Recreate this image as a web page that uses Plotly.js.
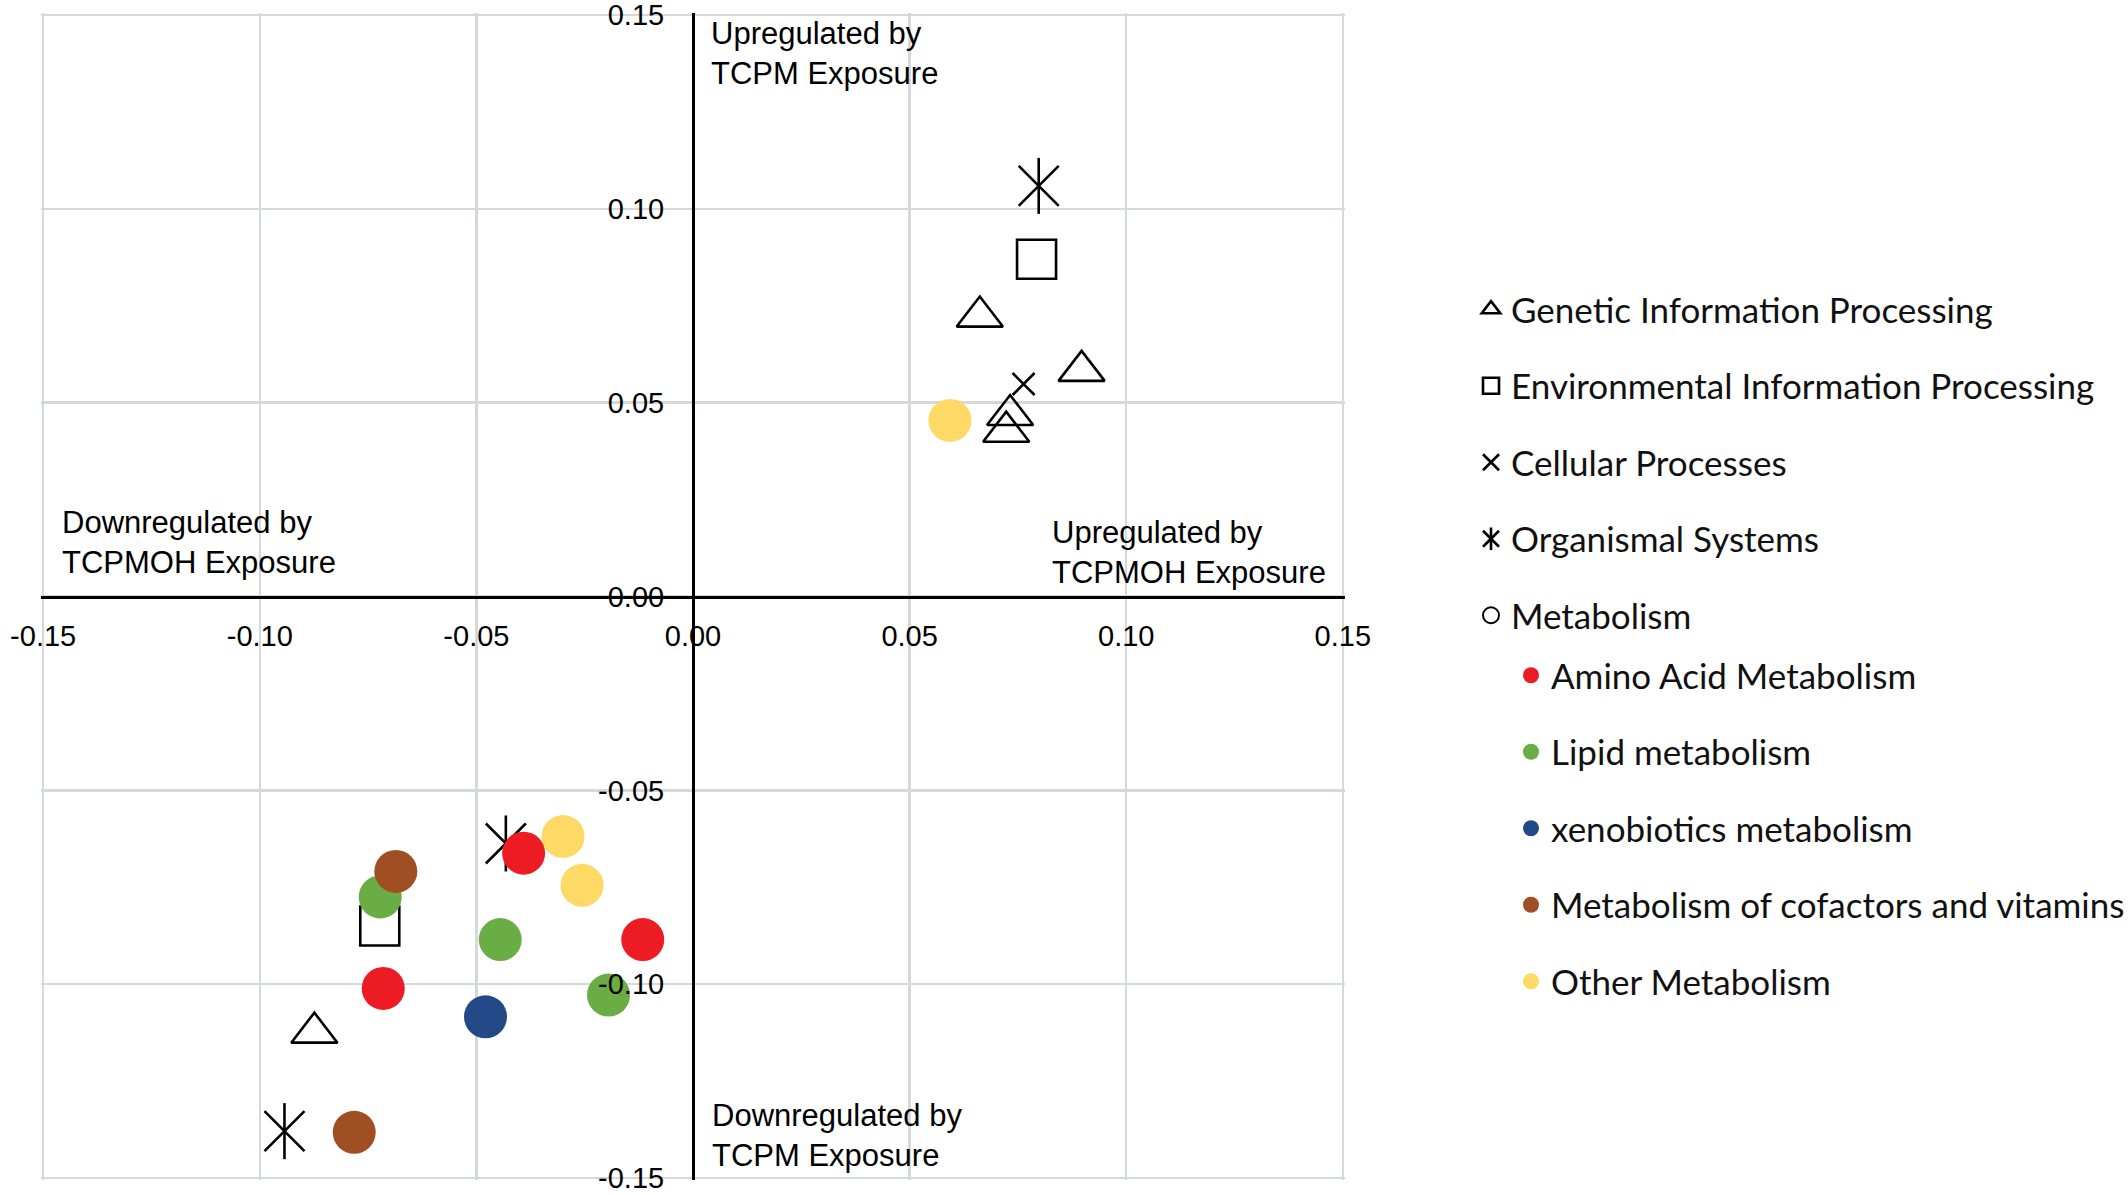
<!DOCTYPE html>
<html>
<head>
<meta charset="utf-8">
<script src="https://cdn.plot.ly/plotly-3.0.1.min.js"></script>
<style>
  html, body { margin: 0; padding: 0; background: #ffffff; }
  #chart { width: 2128px; height: 1195px; }
</style>
</head>
<body>
<div id="chart"></div>
<script>
// ---- Data ----
const categoryNames = [
  'Genetic Information Processing',
  'Environmental Information Processing',
  'Cellular Processes',
  'Organismal Systems',
  'Metabolism'
];
const metabolismNames = [
  'Amino Acid Metabolism',
  'Lipid metabolism',
  'xenobiotics metabolism',
  'Metabolism of cofactors and vitamins',
  'Other Metabolism'
];

const geneticX = [0.0662, 0.0897, 0.0732, 0.0723, -0.0874];
const geneticY = [0.0722, 0.0582, 0.0468, 0.0425, -0.1125];

const environmentalX = [0.0793, -0.0723];
const environmentalY = [0.0870, -0.0850];

const cellularX = [0.0763];
const cellularY = [0.0548];

const organismalX = [0.0798, -0.0432, -0.0943];
const organismalY = [0.1059, -0.0637, -0.1379];

const aminoX = [-0.0391, -0.0116, -0.0715];
const aminoY = [-0.0662, -0.0885, -0.1011];

const lipidX = [-0.0722, -0.0445, -0.0195];
const lipidY = [-0.0775, -0.0885, -0.1028];

const xenoX = [-0.0479];
const xenoY = [-0.1084];

const cofactorX = [-0.0686, -0.0782];
const cofactorY = [-0.0709, -0.1382];

const otherX = [0.0593, -0.0300, -0.0256];
const otherY = [0.0454, -0.0619, -0.0745];

const xTickVals = [-0.15, -0.10, -0.05, 0, 0.05, 0.10, 0.15];
const xTickText = ['-0.15', '-0.10', '-0.05', '0.00', '0.05', '0.10', '0.15'];
const yTickVals = [-0.15, -0.10, -0.05, 0, 0.05, 0.10, 0.15];
const yTickText = ['-0.15', '-0.10', '-0.05', '0.00', '0.05', '0.10', '0.15'];

const quadrantLabels = [
  'Upregulated by<br>TCPM Exposure',
  'Downregulated by<br>TCPMOH Exposure',
  'Upregulated by<br>TCPMOH Exposure',
  'Downregulated by<br>TCPM Exposure'
];

const metabolismColors = ['#ED1C24', '#6BAD45', '#234A86', '#A04F24', '#FFD965'];

// ---- Layout helpers ----
const W = 2128, H = 1195;
const ML = 41, MR = 783, MT = 13, MB = 15;
const PW = W - ML - MR, PH = H - MT - MB;
function px2paperX(px) { return (px - ML) / PW; }
function px2paperY(py) { return 1 - (py - MT) / PH; }

const LEG1_FONT = 35, LEG1_GAP = 28;
const LEG2_FONT = 35, LEG2_GAP = 28;
const LEG1_PITCH = LEG1_FONT * 1.3 + 3 + LEG1_GAP;
const LEG1_LEFT = 1471, LEG1_TOP = 280;
const LEG2_LEFT = 1511, LEG2_TOP = 646;

// ---- Traces ----
const LW = 2.6;
const traces = [];

traces.push({
  type: 'scatter', mode: 'markers', name: categoryNames[0],
  x: geneticX, y: geneticY,
  legend: 'legend', legendgroup: 'g1', legendrank: 1,
  marker: { symbol: 'triangle-up-open', size: 40, color: '#000', line: { width: LW, color: '#000' } }
});
traces.push({
  type: 'scatter', mode: 'markers', name: categoryNames[1],
  x: environmentalX, y: environmentalY,
  legend: 'legend', legendgroup: 'g2', legendrank: 2,
  marker: { symbol: 'square-open', size: 39, color: '#000', line: { width: LW, color: '#000' } }
});
traces.push({
  type: 'scatter', mode: 'markers', name: categoryNames[2],
  x: cellularX, y: cellularY,
  legend: 'legend', legendgroup: 'g3', legendrank: 3,
  marker: { symbol: 'x-thin-open', size: 22, color: '#000', line: { width: LW, color: '#000' } }
});
// Organismal systems: an X plus a vertical stroke (six-armed asterisk)
traces.push({
  type: 'scatter', mode: 'markers', name: categoryNames[3],
  x: organismalX, y: organismalY,
  legend: 'legend', legendgroup: 'g4', legendrank: 4,
  marker: { symbol: 'x-thin-open', size: 40, color: '#000', line: { width: LW, color: '#000' } }
});
traces.push({
  type: 'scatter', mode: 'markers', name: categoryNames[3],
  x: organismalX, y: organismalY,
  legend: 'legend3', legendgroup: 'g4b', showlegend: true,
  marker: { symbol: 'line-ns-open', size: 40, color: '#000', line: { width: LW, color: '#000' } }
});
traces.push({
  type: 'scatter', mode: 'markers', name: categoryNames[4],
  x: [null], y: [null],
  legend: 'legend', legendgroup: 'g5', legendrank: 5,
  marker: { symbol: 'circle-open', size: 16, color: '#000', line: { width: 2, color: '#000' } }
});

// metabolism sub-categories (draw order chosen to match overlaps)
const subOrder = [4, 2, 1, 3, 0];
const subX = [aminoX, lipidX, xenoX, cofactorX, otherX];
const subY = [aminoY, lipidY, xenoY, cofactorY, otherY];
subOrder.forEach(function (i) {
  traces.push({
    type: 'scatter', mode: 'markers', name: metabolismNames[i],
    x: subX[i], y: subY[i],
    legend: 'legend2', legendgroup: 'm' + i, legendrank: 10 + i,
    marker: { symbol: 'circle', size: 43, color: metabolismColors[i], line: { width: 0 } }
  });
});

// ---- Layout ----
const tickFont = { family: 'Liberation Sans, Arial, sans-serif', size: 29, color: '#000' };
const annFont = { family: 'Liberation Sans, Arial, sans-serif', size: 31, color: '#000' };
const legendFont1 = { family: 'Lato, Carlito, "Open Sans", sans-serif', size: LEG1_FONT, color: '#111' };
const legendFont2 = { family: 'Lato, Carlito, "Open Sans", sans-serif', size: LEG2_FONT, color: '#111' };

const axisCommon = {
  range: [-0.1505, 0.1505],
  anchor: 'free', position: 0.5,
  showline: true, linecolor: '#000', linewidth: 3,
  showgrid: true, gridcolor: '#D5D8DC', gridwidth: 2.5,
  zeroline: false,
  ticks: '', tickfont: tickFont,
  ticklabeloverflow: 'allow',
  fixedrange: true
};

const legendCommon = {
  xanchor: 'left', yanchor: 'top',
  bgcolor: 'rgba(0,0,0,0)', borderwidth: 0,
  traceorder: 'grouped',
  itemclick: false, itemdoubleclick: false
};

const layout = {
  width: W, height: H,
  margin: { l: ML, r: MR, t: MT, b: MB, pad: 0, autoexpand: false },
  paper_bgcolor: '#ffffff', plot_bgcolor: '#ffffff',
  showlegend: true,
  xaxis: Object.assign({}, axisCommon, {
    tickmode: 'array', tickvals: xTickVals, ticktext: xTickText,
    side: 'bottom', ticklabelstandoff: 13
  }),
  yaxis: Object.assign({}, axisCommon, {
    tickmode: 'array', tickvals: yTickVals, ticktext: yTickText,
    side: 'left', ticklabelstandoff: 22
  }),
  legend: Object.assign({}, legendCommon, {
    x: px2paperX(LEG1_LEFT), y: px2paperY(LEG1_TOP),
    font: legendFont1, tracegroupgap: LEG1_GAP
  }),
  legend2: Object.assign({}, legendCommon, {
    x: px2paperX(LEG2_LEFT), y: px2paperY(LEG2_TOP),
    font: legendFont2, tracegroupgap: LEG2_GAP
  }),
  // overlay that adds the vertical stroke to the "Organismal Systems" legend symbol
  legend3: Object.assign({}, legendCommon, {
    x: px2paperX(LEG1_LEFT), y: px2paperY(LEG1_TOP + 3 * LEG1_PITCH),
    font: Object.assign({}, legendFont1, { color: 'rgba(0,0,0,0)' }),
    tracegroupgap: LEG1_GAP
  }),
  annotations: [
    { text: quadrantLabels[0], xref: 'paper', yref: 'paper', x: px2paperX(709), y: px2paperY(53), xanchor: 'left', yanchor: 'middle', align: 'left', showarrow: false, font: annFont },
    { text: quadrantLabels[1], xref: 'paper', yref: 'paper', x: px2paperX(60), y: px2paperY(542), xanchor: 'left', yanchor: 'middle', align: 'left', showarrow: false, font: annFont },
    { text: quadrantLabels[2], xref: 'paper', yref: 'paper', x: px2paperX(1050), y: px2paperY(552), xanchor: 'left', yanchor: 'middle', align: 'left', showarrow: false, font: annFont },
    { text: quadrantLabels[3], xref: 'paper', yref: 'paper', x: px2paperX(710), y: px2paperY(1135), xanchor: 'left', yanchor: 'middle', align: 'left', showarrow: false, font: annFont }
  ]
};

Plotly.newPlot('chart', traces, layout, { displayModeBar: false, staticPlot: true });
</script>
</body>
</html>
